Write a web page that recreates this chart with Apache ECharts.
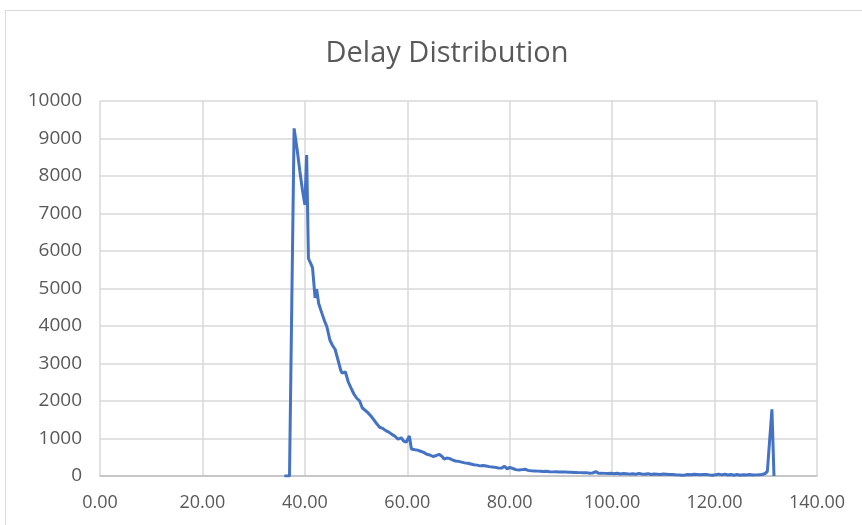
<!DOCTYPE html>
<html>
<head>
<meta charset="utf-8">
<script src="https://cdn.jsdelivr.net/npm/echarts@6/dist/echarts.min.js"></script>
<style>
html,body{margin:0;padding:0;background:#fff;overflow:hidden;}
#frame{position:absolute;left:5px;top:10px;width:900px;height:600px;border:1px solid #d9d9d9;box-sizing:border-box;}
#chart{position:absolute;left:0;top:0;width:862px;height:525px;}
</style>
</head>
<body>
<div id="frame"></div>
<div id="chart"></div>
<script>
const titleText = 'Delay Distribution';
const delayValues = [36.0,37.0,37.9,38.5,39.0,39.5,40.0,40.35,40.7,41.2,41.5,42.0,42.3,42.7,43.3,43.8,44.3,44.9,45.4,45.9,46.5,47.0,47.3,47.9,48.5,49.0,49.6,50.1,50.7,51.2,51.7,52.3,52.9,53.4,54.0,54.6,55.2,55.8,56.4,57.0,57.6,58.2,58.8,59.3,59.8,60.1,60.4,60.8,61.5,62.0,62.6,63.2,63.8,64.4,65.0,65.6,66.2,66.8,67.2,67.7,68.2,68.8,69.4,70.0,70.6,71.2,71.8,72.4,73.0,73.6,74.2,74.8,75.4,76.0,76.6,77.2,77.8,78.4,79.0,79.5,80.0,80.6,81.2,81.8,82.4,83.0,83.6,84.2,84.8,85.4,86.0,86.6,87.2,87.8,88.4,89.0,89.6,90.2,90.8,91.4,92.0,92.6,93.2,93.8,94.4,95.0,95.6,96.2,96.8,97.4,98.0,98.6,99.2,99.8,100.4,101.0,101.6,102.2,102.8,103.4,104.0,104.6,105.2,105.8,106.4,107.0,107.6,108.2,108.8,109.4,110.0,110.6,111.2,111.8,112.4,113.0,113.6,114.2,114.8,115.4,116.0,116.6,117.2,117.8,118.4,119.0,119.6,120.2,120.8,121.4,122.0,122.6,123.2,123.8,124.4,125.0,125.6,126.2,126.8,127.4,128.0,128.6,129.2,129.8,130.3,131.2,131.6];
const counts = [0,0,9270,8700,8150,7650,7230,8560,5800,5650,5550,4750,4980,4600,4350,4150,3980,3620,3480,3380,3080,2820,2740,2780,2500,2350,2180,2080,2000,1820,1760,1690,1600,1510,1400,1300,1270,1210,1170,1110,1060,980,1020,930,900,880,1070,720,700,690,660,630,580,560,520,540,580,520,450,480,470,430,400,390,370,350,340,320,300,290,270,280,265,250,240,230,215,210,260,190,230,200,170,160,170,180,150,140,135,130,125,120,125,115,110,112,108,105,110,100,98,95,92,90,88,90,75,80,115,70,75,70,65,72,60,75,55,65,60,50,58,45,70,55,48,62,40,55,48,40,52,45,38,42,35,30,18,25,40,35,45,40,32,38,42,30,22,35,50,30,45,25,40,20,38,22,35,28,40,25,30,32,40,60,120,1780,0];
const xMin = 0, xMax = 140, xStep = 20;
const yMin = 0, yMax = 10000, yStep = 1000;

const seriesData = delayValues.map((d, i) => [d, counts[i]]);
const chart = echarts.init(document.getElementById('chart'), null, {renderer: 'canvas'});
const fontFam = '"Open Sans", "Noto Sans", sans-serif';
chart.setOption({
  animation: false,
  backgroundColor: 'transparent',
  title: {
    text: titleText,
    left: 442,
    textAlign: 'center',
    top: 34,
    textStyle: {fontFamily: fontFam, fontSize: 29, fontWeight: 'normal', color: '#595959'}
  },
  grid: {left: 100, right: 45, top: 101, bottom: 49, containLabel: false},
  xAxis: {
    type: 'value', min: xMin, max: xMax, interval: xStep,
    axisLine: {show: true, lineStyle: {color: '#bfbfbf', width: 1.5}},
    axisTick: {show: false},
    splitLine: {show: true, lineStyle: {color: '#d9d9d9', width: 1.5}},
    axisLabel: {fontFamily: fontFam, fontSize: 18, color: '#595959', margin: 18,
      formatter: v => v.toFixed(2)}
  },
  yAxis: {
    type: 'value', min: yMin, max: yMax, interval: yStep,
    axisLine: {show: false},
    axisTick: {show: false},
    splitLine: {show: true, lineStyle: {color: '#d9d9d9', width: 1.5}},
    axisLabel: {fontFamily: fontFam, fontSize: 19, color: '#595959', margin: 18,
      formatter: v => String(v)}
  },
  series: [{
    type: 'line',
    data: seriesData,
    showSymbol: false,
    symbol: 'none',
    lineStyle: {color: '#4472C4', width: 3},
    itemStyle: {color: '#4472C4'}
  }]
});
</script>
</body>
</html>
